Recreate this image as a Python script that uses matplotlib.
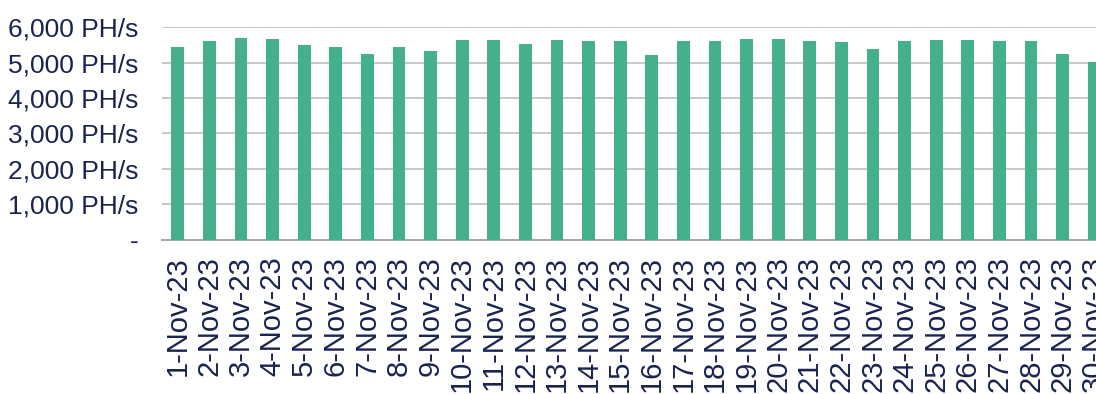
import matplotlib

matplotlib.use("Agg")
import matplotlib.pyplot as plt
import numpy as np

# daily hashrate, November 2023
days = [f"{d}-Nov-23" for d in range(1, 31)]
hashrate = [5450, 5610, 5700, 5660, 5500, 5450, 5250, 5450, 5330, 5650,
            5650, 5540, 5650, 5610, 5610, 5220, 5610, 5610, 5660, 5660,
            5610, 5580, 5380, 5610, 5650, 5650, 5610, 5610, 5250, 5010]
yticks = [0, 1000, 2000, 3000, 4000, 5000, 6000]
ytick_labels = ["-"] + [f"{v:,} PH/s" for v in yticks[1:]]

GREEN = "#45b08c"
NAVY = "#1a2350"

plt.rcParams["font.family"] = ["Liberation Sans", "DejaVu Sans"]

fig = plt.figure(figsize=(10.96, 3.94), dpi=100)
# axes runs a bit past the right edge, like the cropped original
ax = fig.add_axes([162 / 1096, 1 - 239.7 / 394, 948 / 1096, 212.4 / 394])

x = np.arange(len(days))
ax.bar(x, hashrate, width=0.4, color=GREEN, zorder=3)

ax.set_xlim(-0.5, len(days) - 0.5)
ax.set_ylim(0, 6000)
ax.set_yticks(yticks)
ax.set_yticklabels(ytick_labels)
ax.set_xticks(x)
ax.set_xticklabels(days, rotation=90, va="top", ha="center")

ax.yaxis.grid(True, color="#c4c4c4", lw=1.3, zorder=0)
ax.set_axisbelow(True)
for side in ("top", "right", "left"):
    ax.spines[side].set_visible(False)
ax.spines["bottom"].set_color("#a8a8a8")
ax.spines["bottom"].set_linewidth(1.5)

ax.tick_params(axis="y", length=0, pad=17, labelsize=19, labelcolor=NAVY)
ax.tick_params(axis="x", length=0, pad=12, labelsize=21, labelcolor=NAVY)

fig.savefig("out.png", dpi=100)
plt.close(fig)
